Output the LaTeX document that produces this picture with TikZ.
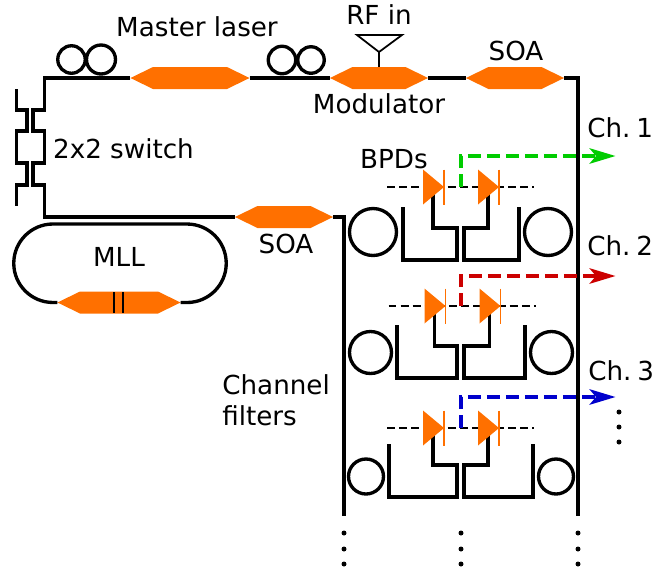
\documentclass[tikz,border=0pt]{standalone}
\usepackage{fontspec}
\setmainfont{DejaVu Sans}
\usepackage{xcolor}
\usetikzlibrary{shapes.symbols,shapes.geometric,arrows.meta,calc}
\definecolor{amporange}{RGB}{255,112,0}
\definecolor{chgreen}{RGB}{0,204,0}
\definecolor{chred}{RGB}{204,0,0}
\definecolor{chblue}{RGB}{0,0,204}

\begin{document}
\begin{tikzpicture}[x=0.02cm,y=-0.02cm]

        \tikzstyle{guide}  = [line width=1.9pt, line join=miter]
        \tikzstyle{coil}   = [circle, draw, line width=1.9pt, inner sep=0pt]
        \tikzstyle{amp}    = [signal, signal to=east and west, signal pointer angle=52, fill=amporange, inner sep=0pt, outer sep=0pt, text height=0.44cm, text depth=0pt]
        \tikzstyle{diode}  = [isosceles triangle, isosceles triangle apex angle=80, isosceles triangle stretches, fill=amporange, inner sep=0pt, outer sep=0pt, minimum height=0.42cm, minimum width=0.7cm, anchor=apex]
        \tikzstyle{lbl}    = [inner sep=0pt, font=\fontsize{14.9}{17.6}\selectfont]
        \tikzstyle{bigdot} = [circle, fill=black, inner sep=0pt, minimum size=0.1cm]

        \useasboundingbox (0,0) rectangle (657,569);

        % master laser arm
        \node [amp, text width=1.48cm](laser) at (190,78) {};
        \node [amp, text width=1.06cm](mod) at (379,78) {};
        \node [amp, text width=1.06cm](soaA) at (515,78) {};
        \node [amp, text width=1.06cm](soaB) at (284,217) {};
        \node [amp, text width=1.56cm](mll) at (119,302.5) {};

        \node [coil, minimum size=0.55cm](c1) at (71.5,59.5) {};
        \node [coil, minimum size=0.58cm](c2) at (101,59.5) {};
        \node [coil, minimum size=0.55cm](c3) at (282,60) {};
        \node [coil, minimum size=0.53cm](c4) at (311,60) {};

        % switch ports
        \coordinate (swA) at (44.5,110);
        \coordinate (swB) at (44.5,185);
        \coordinate (swC) at (16.5,89);
        \coordinate (swD) at (16.5,206);
        \coordinate (endL) at (344,516);
        \coordinate (endR) at (578,516);

        \draw [guide] (laser.west) -| (swA) -- ++(-11.5,0) |- (44.5,131) |- (33,163) |- (swB) |- (soaB.west);
        \draw [guide] (swC) |- (27,110) |- (16.5,131) |- (27,163) |- (16.5,185) -- (swD);
        \draw [guide] (laser.east) -- (mod.west);
        \draw [guide] (mod.east) -- (soaA.west);
        \draw [guide] (soaA.east) -| (endR);
        \draw [guide] (soaB.east) -| (endL);

        % MLL
        \draw [guide] (mll.east) -- (187,302.5) arc [start angle=-90, end angle=90, radius=0.785cm] -- (53,224) arc [start angle=90, end angle=270, radius=0.785cm] -- (mll.west);
        \draw [line width=1pt] (114,292) -- (114,313);
        \draw [line width=1pt] (123,292) -- (123,313);

        % antenna
        \coordinate (ant) at (379,52);
        \draw [line width=1pt] (ant) -- (mod.north);
        \draw [line width=1pt] (ant) -- (357,35) -- (402,35) -- cycle;

        % one row for each channel
        \foreach \n/\yd/\dx/\yf/\fl/\fr/\cxl/\cxr/\cy/\crad/\yo/\colr in
                {1/187/0/260/403/519/373/548/232/0.94/156/chgreen,
                 2/306/1.5/378/397/525/370.5/551.5/352.5/0.84/276/chred,
                 3/428/0/497/389/533/366/556/476.5/0.7/397/chblue}
        {
                \node [coil, minimum size=\crad cm](l\n) at (\cxl,\cy) {};
                \node [coil, minimum size=\crad cm](r\n) at (\cxr,\cy) {};

                \coordinate (in\n) at (387+\dx,\yd);
                \coordinate (out\n) at (534+\dx,\yd);
                \coordinate (tap\n) at (461,\yd);
                \coordinate (tip\n) at (615.5,\yo);
                \draw [dash pattern=on 4.5pt off 2.4pt, line width=1pt] (in\n) -- (out\n);

                \draw [guide] (\fl,\yf-53) |- (457,\yf) |- (433+\dx,\yf-32) -- (433+\dx,\yd+7);
                \draw [guide] (\fr,\yf-53) |- (464,\yf) |- (488+\dx,\yf-32) -- (488+\dx,\yd+7);

                \node [diode](da\n) at (444+\dx,\yd) {};
                \node [diode](db\n) at (499+\dx,\yd) {};
                \draw [amporange, line width=0.9pt] ($(da\n.apex)+(0,-17.5)$) -- ($(da\n.apex)+(0,17.5)$);
                \draw [amporange, line width=0.9pt] ($(db\n.apex)+(0,-17.5)$) -- ($(db\n.apex)+(0,17.5)$);

                \draw [\colr, line width=1.9pt, dash pattern=on 7.4pt off 3.4pt, -{Stealth[length=0.52cm,width=0.31cm,inset=0.13cm]}] (tap\n) |- (tip\n);
        }

        % dots
        \foreach \x/\k in {344/a, 461/b, 578/c}
        {
                \foreach \y in {533, 549, 564}
                {
                        \node [bigdot](p\k\y) at (\x,\y) {};
                }
        }
        \foreach \y in {412, 427, 442}
        {
                \node [bigdot](q\y) at (619,\y) {};
        }

        % labels
        \node [lbl](tLaser) at (197,27) {Master laser};
        \node [lbl](tRf) at (379,15) {RF in};
        \node [lbl](tSoaA) at (516,51) {SOA};
        \node [lbl](tMod) at (379,104) {Modulator};
        \node [lbl](tSwitch) at (123.5,149) {2x2 switch};
        \node [lbl](tBpd) at (394,159) {BPDs};
        \node [lbl](tSoaB) at (286,244) {SOA};
        \node [lbl](tMll) at (119,257) {MLL};
        \node [lbl, anchor=west](tCh1) at (587,128) {Ch.\hspace{0.22em}1};
        \node [lbl, anchor=west](tCh2) at (587,246) {Ch.\hspace{0.22em}2};
        \node [lbl, anchor=west](tCh3) at (588,371) {Ch.\hspace{0.22em}3};
        \node [lbl, anchor=west, align=left](tFilt) at (222,400) {Channel\\filters};

\end{tikzpicture}
\end{document}
